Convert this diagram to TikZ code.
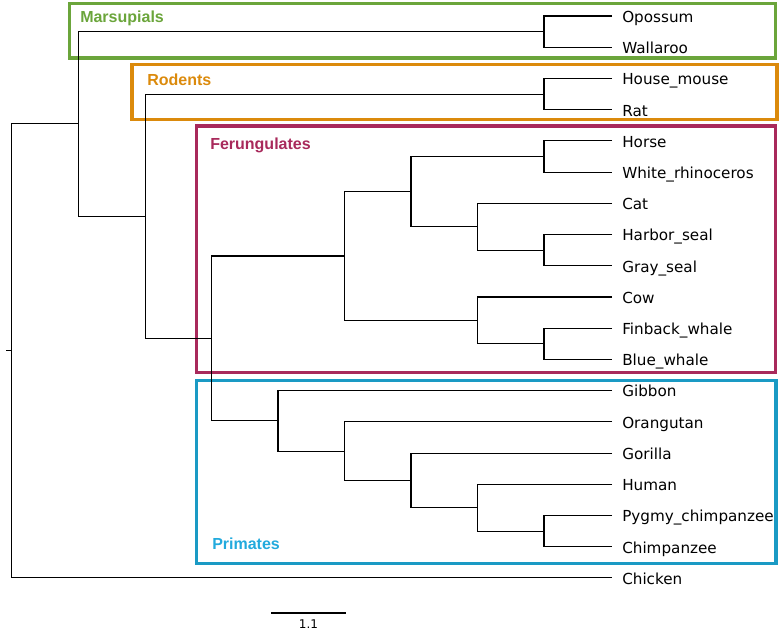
\documentclass[tikz,border=0pt]{standalone}
\usepackage{fontspec}
\setmainfont{DejaVu Sans}
\newfontfamily\grpfont{Liberation Sans}
\definecolor{cMars}{HTML}{6BA53B}
\definecolor{cRod}{HTML}{DB8A0C}
\definecolor{cFer}{HTML}{A8295B}
\definecolor{cPri}{HTML}{1A9AC4}
\definecolor{cPriT}{HTML}{22AADD}
\begin{document}
\begin{tikzpicture}[x=0.75pt,y=-0.75pt,
  branch/.style={draw=black,line width=0.8pt},
  leaflab/.style={anchor=base west,inner sep=0pt,font=\fontsize{11.4pt}{13pt}\selectfont},
  grpbox/.style={line width=2.3pt},
  grplab/.style={anchor=base west,inner sep=0pt,font=\grpfont\bfseries\fontsize{12pt}{14pt}\selectfont}]
\useasboundingbox (0,0) rectangle (779,637);
% group boxes
\draw[grpbox,cMars] (69.5,3.5) rectangle (775.5,58);
\draw[grpbox,cRod] (132,64.5) rectangle (777,119.5);
\draw[grpbox,cFer] (196.5,126) rectangle (775.5,372.5);
\draw[grpbox,cPri] (196.5,380.5) rectangle (776,563.6);
\node[grplab,text=cMars] (lMars) at (80,22) {Marsupials};
\node[grplab,text=cRod] (lRod) at (147,85) {Rodents};
\node[grplab,text=cFer] (lFer) at (210,149) {Ferungulates};
\node[grplab,text=cPriT] (lPri) at (212,549) {Primates};
% tips
\foreach \n/\y/\t in {t0/16/Opossum,t1/47.2/Wallaroo,t2/78.4/House\_mouse,t3/109.7/Rat,
  t4/140.9/Horse,t5/172.1/White\_rhinoceros,t6/203.3/Cat,t7/234.5/Harbor\_seal,
  t8/265.8/Gray\_seal,t9/297.0/Cow,t10/328.2/Finback\_whale,t11/359.4/Blue\_whale,
  t12/390.6/Gibbon,t13/421.9/Orangutan,t14/453.1/Gorilla,t15/484.3/Human,
  t16/515.5/Pygmy\_chimpanzee,t17/546.7/Chimpanzee,t18/577.9/Chicken}{
  \coordinate (\n) at (612,\y);
  \node[leaflab] (L\n) at (622,\y+6.3) {\t};
}
% internal nodes
\coordinate (M) at (544,31.6);
\coordinate (Rd) at (544,94.05);
\coordinate (Hs) at (544,156.5);
\coordinate (Se) at (544,250.15);
\coordinate (Ca) at (477.5,226.7);
\coordinate (G1) at (411,191.6);
\coordinate (Wh) at (544,343.8);
\coordinate (G2) at (477.5,320.4);
\coordinate (F) at (344.5,256);
\coordinate (Ch) at (544,531.1);
\coordinate (P4) at (477.5,507.7);
\coordinate (P3) at (411,480.4);
\coordinate (P2) at (344.5,451.15);
\coordinate (P) at (278,420.9);
\coordinate (C) at (211.5,338.45);
\coordinate (B) at (145.5,216.25);
\coordinate (A) at (78.5,123.9);
\coordinate (R) at (11.5,350.9);
\coordinate (stub) at (6,350.9);
% branches
\draw[branch] (t0) -| (M) |- (t1);
\draw[branch] (t2) -| (Rd) |- (t3);
\draw[branch] (t4) -| (Hs) |- (t5);
\draw[branch] (t7) -| (Se) |- (t8);
\draw[branch] (t6) -| (Ca) |- (Se);
\draw[branch] (Hs) -| (G1) |- (Ca);
\draw[branch] (t10) -| (Wh) |- (t11);
\draw[branch] (t9) -| (G2) |- (Wh);
\draw[branch] (G1) -| (F) |- (G2);
\draw[branch] (t16) -| (Ch) |- (t17);
\draw[branch] (t15) -| (P4) |- (Ch);
\draw[branch] (t14) -| (P3) |- (P4);
\draw[branch] (t13) -| (P2) |- (P3);
\draw[branch] (t12) -| (P) |- (P2);
\draw[branch] (F) -| (C) |- (P);
\draw[branch] (Rd) -| (B) |- (C);
\draw[branch] (M) -| (A) |- (B);
\draw[branch] (A) -| (R) |- (t18);
\draw[branch] (stub) -- (R);
% scale bar
\coordinate (sb1) at (271,613);
\coordinate (sb2) at (346,613);
\draw[branch] (sb1) -- (sb2);
\node[anchor=base,inner sep=0pt,font=\fontsize{9pt}{10pt}\selectfont] (sblab) at (308.5,628.5) {1.1};
\end{tikzpicture}
\end{document}
